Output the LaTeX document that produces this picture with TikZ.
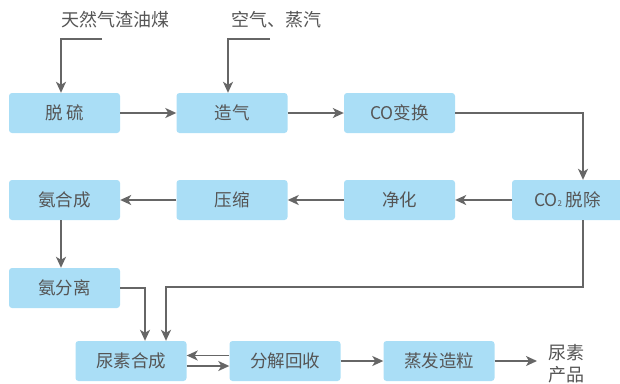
\documentclass[tikz,border=0pt]{standalone}
\usepackage{fontspec}
\newfontfamily\cjk{Noto Sans CJK SC}
\usetikzlibrary{arrows.meta}
\definecolor{boxblue}{RGB}{170,222,246}
\definecolor{linegray}{RGB}{102,102,102}
\definecolor{textgray}{RGB}{85,85,85}
\tikzset{
 stage/.style={rectangle,rounded corners=3pt,fill=boxblue,minimum width=111pt,minimum height=40pt,inner sep=0pt,text=textgray,font=\cjk\fontsize{17.5}{19}\selectfont},
 feed/.style={inner sep=0pt,text=textgray,font=\cjk\fontsize{18}{22}\selectfont},
 flow/.style={draw=linegray,line width=1.6pt,-{Stealth[length=11pt,width=10pt,inset=3pt]}}
}
\begin{document}
\begin{tikzpicture}[x=1pt,y=-1pt]
 \useasboundingbox (0,0) rectangle (620,383);
 % stages
 \node[stage] (desulf) at (64.5,113) {脱 硫};
 \node[stage] (gasify) at (232,113) {造气};
 \node[stage] (shift) at (399.5,113) {CO变换};
 \node[stage] (decarb) at (567.5,200) {CO{\fontsize{8}{8}\selectfont 2} 脱除};
 \node[stage] (purify) at (399.5,200) {净化};
 \node[stage] (compress) at (232,200) {压缩};
 \node[stage] (nhsyn) at (64.5,200) {氨合成};
 \node[stage] (nhsep) at (64.5,288) {氨分离};
 \node[stage] (urea) at (131,361) {尿素合成};
 \node[stage] (decomp) at (285,361) {分解回收};
 \node[stage] (granul) at (439,361) {蒸发造粒};
 % feeds and product
 \node[feed,anchor=west] (coal) at (61,20) {天然气渣油煤};
 \node[feed,anchor=west] (air) at (231,20) {空气、蒸汽};
 \node[feed,anchor=west,align=left] (prod) at (548,364) {尿素\\产品};
 \coordinate (coalend) at (102,39);
 \coordinate (airend) at (270,39);
 \coordinate (loop) at (583,287);
 %
 \draw[flow] (coalend) -| ([xshift=-3.5pt]desulf.north);
 \draw[flow] (airend) -| ([xshift=-4pt]gasify.north);
 %
 \draw[flow] (desulf) -- (gasify);
 \draw[flow] (gasify) -- (shift);
 \draw[flow] (shift.east) -| ([xshift=15.5pt]decarb.north);
 \draw[flow] (decarb) -- (purify);
 \draw[flow] (purify) -- (compress);
 \draw[flow] (compress) -- (nhsyn);
 \draw[flow] ([xshift=-3.5pt]nhsyn.south) -- ([xshift=-3.5pt]nhsep.north);
 %
 \draw[flow] (nhsep.east) -| ([xshift=14pt]urea.north);
 \draw[flow] ([xshift=15.5pt]decarb.south) -- (loop) -| ([xshift=35pt]urea.north);
 %
 \draw[flow] ([yshift=5.5pt]decomp.west) -- ([yshift=5.5pt]urea.east);
 \draw[flow] ([yshift=-5pt]urea.east) -- ([yshift=-5pt]decomp.west);
 \draw[flow] (decomp) -- (granul);
 \draw[flow,shorten >=11pt] (granul.east) -- (granul.east -| prod.west);
\end{tikzpicture}
\end{document}
